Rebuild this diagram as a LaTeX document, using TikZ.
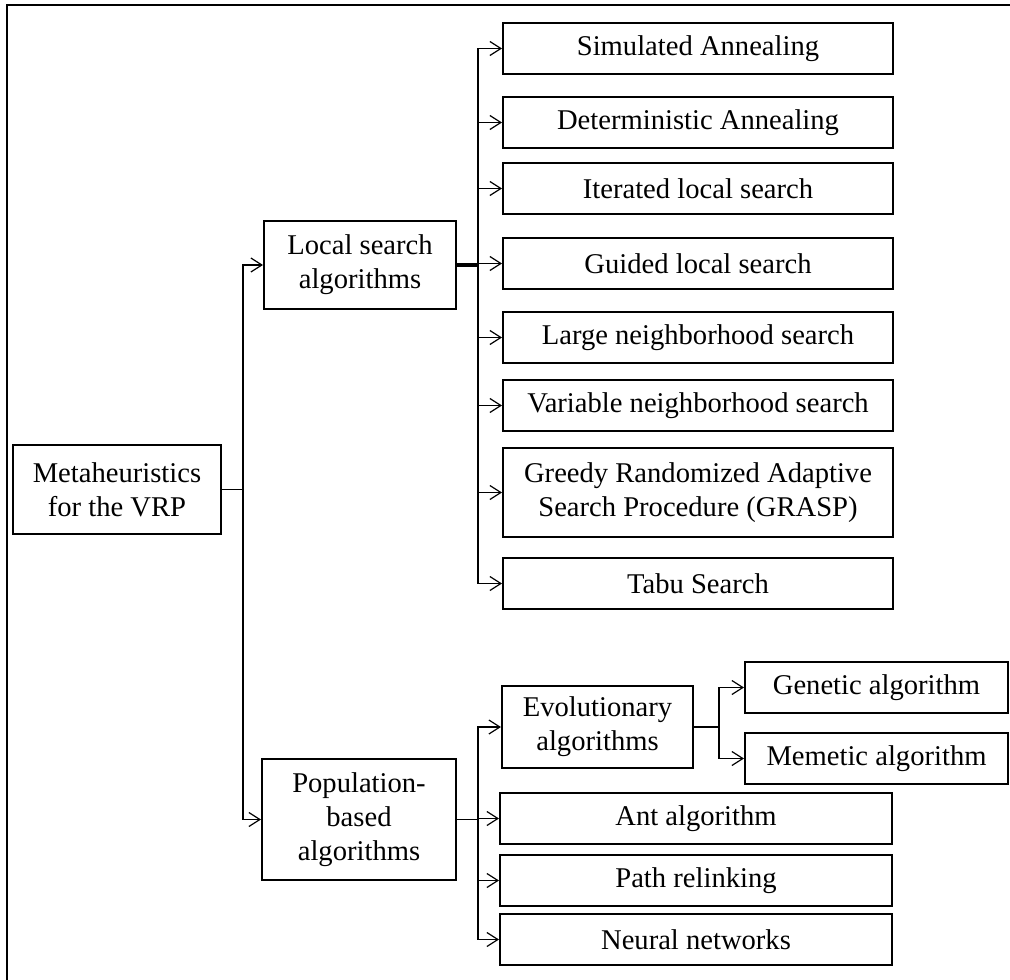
\documentclass[tikz,border=0pt]{standalone}
\usepackage{fontspec}
\setmainfont{Liberation Serif}
\usetikzlibrary{positioning,arrows.meta}

\begin{document}
\begin{tikzpicture}[x=0.5pt, y=-0.5pt, font=\fontsize{14.3}{17}\selectfont, bx/.style={draw, line width=1pt, inner sep=0pt, align=center, minimum width=195pt, minimum height=25.5pt}, ln/.style={line width=0.6pt}, ar/.style={ln, -{Straight Barb[length=5.5pt,width=7pt]}}, th/.style={line width=1.6pt}]
		\useasboundingbox (0,0) rectangle (1010,979);
		\draw[line width=1pt] (7,1000) -- (7,5) -- (1030,5);

		\node[bx, minimum width=104pt, minimum height=44.5pt] (M) at (117,489.5) {Metaheuristics\\for the VRP};
		\node[bx, minimum width=96pt, minimum height=44pt] (L) at (360,265) {Local search\\algorithms};
		\node[bx, minimum width=97pt, minimum height=60.5pt] (P) at (359,819.5) {Population-\\based\\algorithms};

		\node[bx] (SA) at (698,48.5) {Simulated Annealing};
		\node[bx, below=10.5pt of SA] (DA) {Deterministic Annealing};
		\node[bx, below=6.5pt of DA] (ILS) {Iterated local search};
		\node[bx, below=11pt of ILS] (GLS) {Guided local search};
		\node[bx, below=10.5pt of GLS] (LNS) {Large neighborhood search};
		\node[bx, below=7.5pt of LNS] (VNS) {Variable neighborhood search};
		\node[bx, below=7.5pt of VNS, minimum height=44.5pt] (GR) {Greedy Randomized Adaptive\\Search Procedure (GRASP)};
		\node[bx, below=9.5pt of GR] (TS) {Tabu Search};

		\node[bx, minimum width=95.5pt, minimum height=41pt] (EA) at (597.5,727) {Evolutionary\\algorithms};
		\node[bx, minimum width=131.5pt] (GA) at (876.5,687.5) {Genetic algorithm};
		\node[bx, minimum width=131.5pt, below=9pt of GA] (MA) {Memetic algorithm};
		\node[bx, minimum width=196pt] (AA) at (696,818.5) {Ant algorithm};
		\node[bx, minimum width=196pt, below=4.5pt of AA] (PR) {Path relinking};
		\node[bx, minimum width=196pt, below=3pt of PR] (NN) {Neural networks};

		\coordinate (m1) at (243,489.5);
		\coordinate (m2) at (478,265);
		\coordinate (m3) at (478,819.5);
		\coordinate (m4) at (719,727);

		\draw[ln] (M) -- (m1);
		\draw[ar] (m1) |- (L.west);
		\draw[ar] (m1) |- (P.west);
		\draw[th] (L) -- (m2);
		\foreach \n in {SA,DA,ILS,GLS,LNS,VNS,GR,TS}
			\draw[ar] (m2) |- (\n.west);
		\draw[ln] (P) -- (m3);
		\foreach \n in {EA,AA,PR,NN}
			\draw[ar] (m3) |- (\n.west);
		\draw[ln] (EA) -- (m4);
		\foreach \n in {GA,MA}
			\draw[ar] (m4) |- (\n.west);
	\end{tikzpicture}
\end{document}
